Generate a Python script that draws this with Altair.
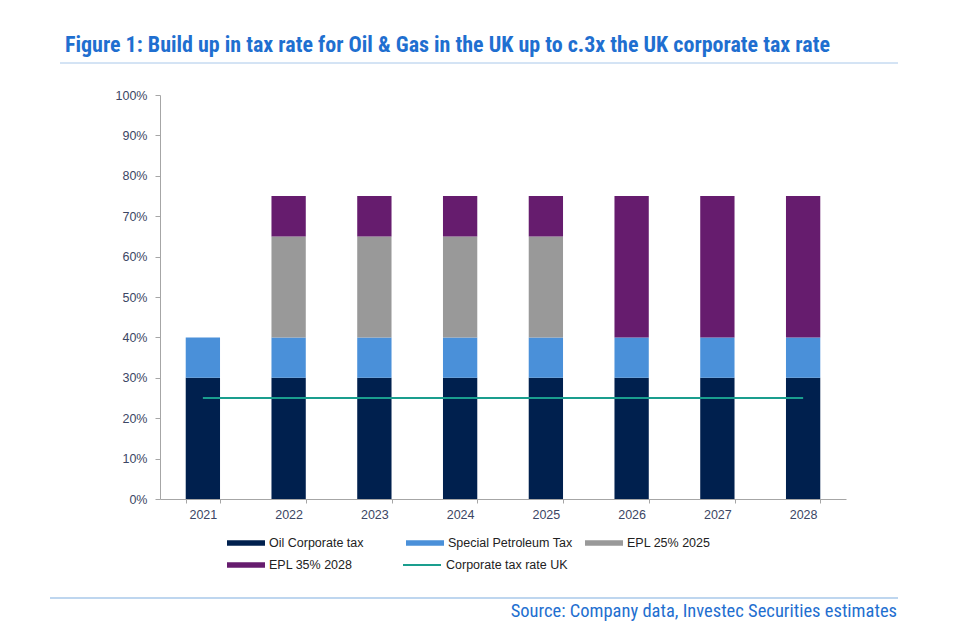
import altair as alt
import pandas as pd

years = ["2021", "2022", "2023", "2024", "2025", "2026", "2027", "2028"]
series_names = ["Oil Corporate tax", "Special Petroleum Tax", "EPL 25% 2025", "EPL 35% 2028"]
oil_corporate_tax = [30, 30, 30, 30, 30, 30, 30, 30]
special_petroleum_tax = [10, 10, 10, 10, 10, 10, 10, 10]
epl_25_2025 = [0, 25, 25, 25, 25, 0, 0, 0]
epl_35_2028 = [0, 10, 10, 10, 10, 35, 35, 35]
corporate_tax_rate_uk = [25, 25, 25, 25, 25, 25, 25, 25]
line_name = "Corporate tax rate UK"
bar_colors = ["#00204e", "#4a90d9", "#999999", "#661c6e"]
line_color = "#1a9e8e"

title_text = "Figure 1: Build up in tax rate for Oil & Gas in the UK up to c.3x the UK corporate tax rate"
source_text = "Source: Company data, Investec Securities estimates"

rows = []
for i, name in enumerate(series_names):
    vals = [oil_corporate_tax, special_petroleum_tax, epl_25_2025, epl_35_2028][i]
    for y, v in zip(years, vals):
        rows.append({"year": y, "series": name, "value": v / 100, "idx": i})
bars_df = pd.DataFrame(rows)
line_df = pd.DataFrame({"year": years, "value": [v / 100 for v in corporate_tax_rate_uk], "series": line_name})

FONT = "Liberation Sans, Arial, sans-serif"
NARROW = "Liberation Sans Narrow, Arial Narrow, Roboto Condensed, sans-serif"
AX = "#3c4664"

x_enc = alt.X("year:O", sort=years, title=None,
              scale=alt.Scale(paddingInner=0.6, paddingOuter=0.3),
              axis=alt.Axis(labelAngle=0, tickBand="extent", domainColor="#a6a6a6",
                            tickColor="#a6a6a6", tickSize=4, labelColor=AX,
                            labelFont=FONT, labelFontSize=12.5, labelPadding=5))
y_enc = alt.Y("value:Q", stack="zero", title=None,
              scale=alt.Scale(domain=[0, 1], nice=False),
              axis=alt.Axis(format=".0%", values=[i / 10 for i in range(11)], grid=False,
                            domainColor="#a6a6a6", tickColor="#a6a6a6", tickSize=5,
                            labelColor=AX, labelFont=FONT, labelFontSize=12.5, labelPadding=8))

bars = alt.Chart(bars_df).mark_bar().encode(
    x=x_enc,
    y=y_enc,
    fill=alt.Fill("series:N",
                  scale=alt.Scale(domain=series_names, range=bar_colors),
                  legend=alt.Legend(title=None, orient="none", legendX=67, legendY=441,
                                    values=series_names, direction="horizontal",
                                    columns=3, gridAlign="all", columnPadding=12,
                                    rowPadding=8, clipHeight=14,
                                    symbolType="M-1,-0.14H1V0.14H-1Z", symbolSize=1444,
                                    symbolStrokeWidth=0, labelOffset=4,
                                    labelFont=FONT, labelFontSize=12.5, labelColor="#222222",
                                    padding=0)),
    order=alt.Order("idx:Q"),
)

line = alt.Chart(line_df).mark_line(strokeWidth=2).encode(
    x=alt.X("year:O", sort=years),
    y=alt.Y("value:Q"),
    stroke=alt.Stroke("series:N", scale=alt.Scale(domain=[line_name], range=[line_color]),
                      legend=alt.Legend(title=None, orient="none", legendX=242, legendY=463,
                                        clipHeight=14, symbolType="stroke", symbolSize=1444,
                                        symbolStrokeWidth=2, labelOffset=4,
                                        labelFont=FONT, labelFontSize=12.5, labelColor="#222222",
                                        padding=0)),
)

title = alt.Chart(pd.DataFrame({"t": [title_text]})).mark_text(
    align="left", baseline="alphabetic", font=NARROW, fontSize=22, fontWeight="bold", color="#1f6fd0"
).encode(x=alt.value(-95), y=alt.value(-43), text="t:N")

source = alt.Chart(pd.DataFrame({"t": [source_text]})).mark_text(
    align="right", baseline="alphabetic", font=NARROW, fontSize=18.5, color="#1f6fd0"
).encode(x=alt.value(737), y=alt.value(522), text="t:N")

top_rule = alt.Chart(pd.DataFrame({"a": [0]})).mark_rule(color="#a9c8ea", strokeWidth=1).encode(
    x=alt.value(-100), x2=alt.value(738), y=alt.value(-32))
bottom_rule = alt.Chart(pd.DataFrame({"a": [0]})).mark_rule(color="#a9c8ea", strokeWidth=1.5).encode(
    x=alt.value(-110), x2=alt.value(738), y=alt.value(503))

chart = alt.layer(bars, line, title, source, top_rule, bottom_rule).resolve_scale(
    fill="independent", stroke="independent"
).properties(
    width=686, height=404,
    background="white",
    autosize=alt.AutoSizeParams(type="none"),
    padding={"left": 152, "top": 87, "right": 100, "bottom": 130},
).configure_view(stroke=None)

chart.save("out.html", embed_options={"renderer": "svg", "actions": False})
